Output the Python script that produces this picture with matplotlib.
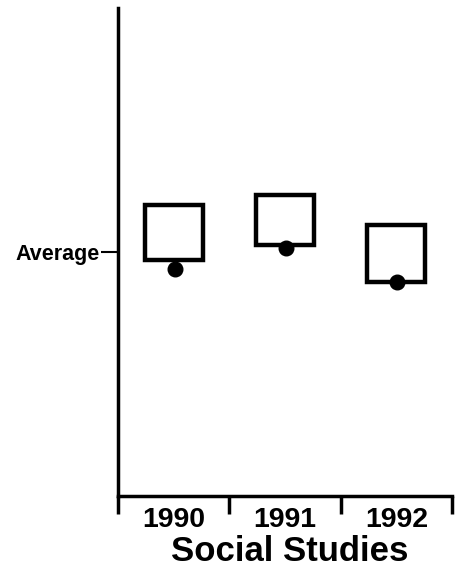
import numpy as np
import matplotlib.pyplot as plt
from matplotlib.patches import Rectangle

plt.rcParams['font.family'] = ['Liberation Sans', 'DejaVu Sans']

# Datos (escala 0-100, promedio = 50)
anos = ['1990', '1991', '1992']
caja_sup = [59.6, 61.7, 55.5]
caja_inf = [48.4, 51.4, 43.9]
puntos = [46.6, 50.8, 43.9]
promedio = 50

fig = plt.figure(figsize=(4.57, 5.86), dpi=100)
ax = fig.add_axes([118/457, 90/586, 334/457, 488/586])

x = np.arange(len(anos))
ancho = 0.52
for xi, sup, inf, p in zip(x, caja_sup, caja_inf, puntos):
    ax.add_patch(Rectangle((xi - ancho/2, inf), ancho, sup - inf,
                           fill=False, edgecolor='black', linewidth=3.2, zorder=2))
    ax.plot(xi + 0.01, p, 'o', color='black', markersize=10.5, zorder=3)

ax.set_xlim(-0.5, 2.5)
ax.set_ylim(0, 100)
for lado in ['top', 'right']:
    ax.spines[lado].set_visible(False)
ax.spines['left'].set_linewidth(2.5)
ax.spines['bottom'].set_linewidth(2.5)

ax.set_xticks([-0.5, 0.5, 1.5, 2.5])
ax.set_xticklabels([])
ax.tick_params(axis='x', direction='out', length=13, width=2.5)
ax.set_yticks([promedio])
ax.set_yticklabels(['Average'], fontsize=15.5, fontweight='bold')
ax.tick_params(axis='y', direction='out', length=12, width=1.5, pad=1)

for xi, a in zip(x, anos):
    ax.text(xi, -0.05, a, transform=ax.get_xaxis_transform(), ha='center', va='center',
            fontsize=20.5, fontweight='bold')
ax.text(0.515, -0.113, 'Social Studies', transform=ax.transAxes, ha='center', va='center',
        fontsize=25, fontweight='bold')

fig.savefig('out.png', dpi=100)
